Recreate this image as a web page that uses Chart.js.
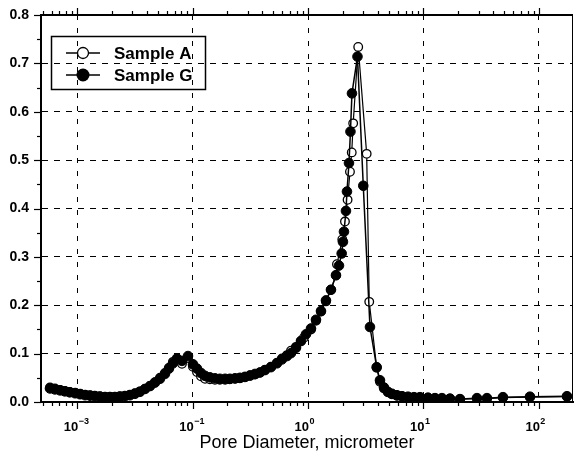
<!DOCTYPE html>
<html>
<head>
<meta charset="utf-8">
<script src="https://cdn.jsdelivr.net/npm/chart.js"></script>
<style>
  html, body { margin: 0; padding: 0; background: #fff; }
  #wrap { width: 575px; height: 453px; }
</style>
</head>
<body>
<div id="wrap"><canvas id="poreChart" width="575" height="453"></canvas></div>
<script>
// Pore diameter (micrometer) and distribution values
var seriesNames = ['Sample A', 'Sample G'];

var poreA = [0.0058, 0.0064, 0.0071, 0.0078, 0.0086, 0.0096, 0.0106, 0.0117, 0.0129, 0.0142,
    0.0157, 0.0174, 0.0192, 0.0212, 0.0234, 0.0259, 0.0286, 0.0316, 0.0349, 0.0386,
    0.0427, 0.0471, 0.0521, 0.0575, 0.0623, 0.0675, 0.0731, 0.0808, 0.0911, 0.1006,
    0.109, 0.118, 0.128, 0.141, 0.156, 0.172, 0.191, 0.210, 0.233, 0.257,
    0.284, 0.314, 0.347, 0.383, 0.423, 0.477, 0.538, 0.594, 0.657, 0.711,
    0.786, 0.868, 0.92, 1.060, 1.171, 1.294, 1.429, 1.579, 1.745, 1.780,
    1.98, 2.088, 2.20, 2.307, 2.39, 2.46, 2.72, 3.22, 3.39, 3.931,
    4.20, 4.55, 4.93, 5.33, 5.89, 6.51, 7.34, 8.28, 9.33, 10.94,
    12.58, 14.46, 16.97, 20.72, 29.08, 35.51, 48.85, 83.73, 175.2];
var fracA = [0.030, 0.028, 0.025, 0.023, 0.021, 0.019, 0.017, 0.015, 0.014, 0.013,
    0.012, 0.011, 0.011, 0.011, 0.012, 0.013, 0.015, 0.018, 0.022, 0.027,
    0.033, 0.041, 0.050, 0.060, 0.071, 0.083, 0.088, 0.079, 0.091, 0.073,
    0.062, 0.053, 0.048, 0.047, 0.046, 0.046, 0.046, 0.047, 0.048, 0.049,
    0.051, 0.054, 0.057, 0.061, 0.066, 0.073, 0.081, 0.090, 0.097, 0.106,
    0.114, 0.126, 0.133, 0.150, 0.168, 0.187, 0.208, 0.232, 0.262, 0.285,
    0.336, 0.373, 0.418, 0.476, 0.516, 0.576, 0.734, 0.513, 0.207, 0.071,
    0.042, 0.028, 0.020, 0.016, 0.013, 0.012, 0.010, 0.009, 0.009, 0.008,
    0.008, 0.007, 0.007, 0.006, 0.007, 0.007, 0.009, 0.010, 0.011];

var poreG = [0.0058, 0.0064, 0.0071, 0.0078, 0.0086, 0.0096, 0.0106, 0.0117, 0.0129, 0.0142,
    0.0157, 0.0174, 0.0192, 0.0212, 0.0234, 0.0259, 0.0286, 0.0316, 0.0349, 0.0386,
    0.0427, 0.0471, 0.0521, 0.0575, 0.0623, 0.0675, 0.0731, 0.0808, 0.0911, 0.1006,
    0.109, 0.118, 0.128, 0.141, 0.156, 0.172, 0.191, 0.210, 0.233, 0.257,
    0.284, 0.314, 0.347, 0.383, 0.423, 0.477, 0.538, 0.594, 0.657, 0.711,
    0.786, 0.868, 0.959, 1.060, 1.171, 1.294, 1.429, 1.579, 1.745, 1.853,
    1.955, 2.006, 2.047, 2.130, 2.173, 2.262, 2.330, 2.401, 2.680, 3.009,
    3.439, 3.931, 4.199, 4.548, 4.926, 5.333, 5.894, 6.512, 7.339, 8.275,
    9.327, 10.94, 12.58, 14.46, 16.97, 20.72, 29.08, 35.51, 48.85, 83.73, 175.2];
var fracG = [0.028, 0.026, 0.024, 0.022, 0.020, 0.018, 0.016, 0.014, 0.013, 0.012,
    0.011, 0.010, 0.010, 0.010, 0.011, 0.012, 0.014, 0.017, 0.021, 0.027,
    0.033, 0.040, 0.048, 0.058, 0.069, 0.080, 0.090, 0.085, 0.095, 0.078,
    0.069, 0.060, 0.054, 0.051, 0.049, 0.048, 0.048, 0.048, 0.049, 0.050,
    0.052, 0.055, 0.058, 0.061, 0.066, 0.072, 0.080, 0.088, 0.095, 0.101,
    0.112, 0.126, 0.140, 0.152, 0.170, 0.188, 0.210, 0.232, 0.262, 0.282,
    0.307, 0.331, 0.352, 0.395, 0.435, 0.494, 0.559, 0.638, 0.714, 0.447,
    0.155, 0.072, 0.045, 0.030, 0.021, 0.017, 0.014, 0.012, 0.011, 0.010,
    0.010, 0.009, 0.008, 0.008, 0.007, 0.006, 0.008, 0.008, 0.010, 0.011, 0.012];

// Axis ticks
var xTickValues = [0.01, 0.1, 1, 10, 100];
var xTickExponents = ['-3', '-1', '0', '1', '2'];
var xMin = 0.00485;
var xMax = 197.6;
var yMin = 0;
var yMax = 0.8;
var yStep = 0.1;
var xTitle = 'Pore Diameter, micrometer';

var FONT = '"Liberation Sans", Arial, Helvetica, sans-serif';

/**
 * Build {x, y} points from two arrays.
 */
var toPoints = function(xs, ys) {
    return xs.map(function(x, i) {
        return {x: x, y: ys[i]};
    });
};

/**
 * Frame, minor ticks, x labels, axis title and legend box.
 */
var decorPlugin = {
    id: 'decor',
    afterDraw: function(chart) {
        var ctx = chart.ctx;
        var a = chart.chartArea;
        var xs = chart.scales.x;
        var ys = chart.scales.y;
        ctx.save();
        ctx.strokeStyle = '#000';
        ctx.fillStyle = '#000';

        // top and right frame
        ctx.lineWidth = 2;
        ctx.beginPath();
        ctx.moveTo(a.left, a.top);
        ctx.lineTo(a.right, a.top);
        ctx.stroke();
        ctx.lineWidth = 1;
        ctx.beginPath();
        ctx.moveTo(a.right - 0.5, a.top);
        ctx.lineTo(a.right - 0.5, a.bottom);
        ctx.stroke();

        // log ticks on bottom and top
        ctx.lineWidth = 1.2;
        for (var e = -3; e <= 2; e++) {
            for (var m = 1; m <= 9; m++) {
                var v = m * Math.pow(10, e);
                if (v < xs.min || v > xs.max) {
                    continue;
                }
                var px = Math.round(xs.getPixelForValue(v)) + 0.5;
                var len = m === 1 ? 7 : 4;
                ctx.beginPath();
                ctx.moveTo(px, a.bottom);
                ctx.lineTo(px, a.bottom + len);
                ctx.moveTo(px, a.top);
                ctx.lineTo(px, a.top - len);
                ctx.stroke();
            }
        }

        // y ticks on the left
        for (var k = 0; k <= 16; k++) {
            var py = Math.round(ys.getPixelForValue(k * 0.05)) + 0.5;
            var ylen = k % 2 === 0 ? 7 : 4;
            ctx.beginPath();
            ctx.moveTo(a.left - ylen, py);
            ctx.lineTo(a.left, py);
            ctx.stroke();
        }

        // x tick labels: 10 with superscript exponent
        xTickValues.forEach(function(v, i) {
            var gx = xs.getPixelForValue(v);
            ctx.font = 'bold 13px ' + FONT;
            ctx.textAlign = 'right';
            ctx.textBaseline = 'alphabetic';
            ctx.fillText('10', gx + 1, 431);
            ctx.font = 'bold 9px ' + FONT;
            ctx.textAlign = 'left';
            ctx.fillText(xTickExponents[i].replace('-', '\u2212'), gx + 1.5, 424);
        });

        // x axis title
        ctx.font = '18px ' + FONT;
        ctx.textAlign = 'center';
        ctx.textBaseline = 'alphabetic';
        ctx.fillText(xTitle, (a.left + a.right) / 2, 448);

        // legend box
        ctx.lineWidth = 1.5;
        ctx.strokeRect(51.5, 36.5, 154, 53);
        var rows = [53, 75];
        seriesNames.forEach(function(name, i) {
            var ly = rows[i];
            ctx.lineWidth = 1.3;
            ctx.beginPath();
            ctx.moveTo(66, ly);
            ctx.lineTo(100, ly);
            ctx.stroke();
            ctx.beginPath();
            if (i === 0) {
                ctx.arc(83, ly, 5.5, 0, Math.PI * 2);
                ctx.fillStyle = '#fff';
                ctx.fill();
                ctx.stroke();
            } else {
                ctx.arc(83, ly, 6.5, 0, Math.PI * 2);
                ctx.fillStyle = '#000';
                ctx.fill();
            }
            ctx.fillStyle = '#000';
            ctx.font = 'bold 17px ' + FONT;
            ctx.textAlign = 'left';
            ctx.textBaseline = 'middle';
            ctx.fillText(name, 114, ly + 1);
        });
        ctx.restore();
    }
};

new Chart(document.getElementById('poreChart'), {
    type: 'line',
    data: {
        datasets: [{
            label: seriesNames[0],
            data: toPoints(poreA, fracA),
            borderColor: '#000',
            borderWidth: 1.2,
            pointRadius: 4.3,
            pointBorderWidth: 1.3,
            pointBackgroundColor: '#fff',
            pointBorderColor: '#000',
            tension: 0,
            order: 1
        }, {
            label: seriesNames[1],
            data: toPoints(poreG, fracG),
            borderColor: '#000',
            borderWidth: 1.5,
            pointRadius: 4.8,
            pointBorderWidth: 1,
            pointBackgroundColor: '#000',
            pointBorderColor: '#000',
            tension: 0,
            order: 0
        }]
    },
    options: {
        responsive: false,
        animation: false,
        layout: {
            autoPadding: false,
            padding: {left: 0, right: 2, top: 15, bottom: 0}
        },
        scales: {
            x: {
                type: 'logarithmic',
                min: xMin,
                max: xMax,
                afterBuildTicks: function(scale) {
                    scale.ticks = xTickValues.map(function(v) {
                        return {value: v};
                    });
                },
                afterFit: function(scale) {
                    scale.height = 51;
                    scale.paddingLeft = 0;
                    scale.paddingRight = 0;
                },
                ticks: {
                    display: false
                },
                grid: {
                    color: '#000',
                    lineWidth: 1,
                    drawTicks: false
                },
                border: {
                    display: true,
                    color: '#000',
                    width: 2,
                    dash: [5, 8]
                }
            },
            y: {
                min: yMin,
                max: yMax,
                afterFit: function(scale) {
                    scale.width = 41;
                    scale.paddingTop = 0;
                    scale.paddingBottom = 0;
                },
                ticks: {
                    stepSize: yStep,
                    color: '#000',
                    padding: 12,
                    font: {family: FONT, size: 14, weight: 'bold'},
                    callback: function(value) {
                        return value.toFixed(1);
                    }
                },
                grid: {
                    color: '#000',
                    lineWidth: 1,
                    drawTicks: false
                },
                border: {
                    display: true,
                    color: '#000',
                    width: 2,
                    dash: [6, 6]
                }
            }
        },
        plugins: {
            legend: {display: false},
            tooltip: {enabled: false}
        }
    },
    plugins: [decorPlugin]
});
</script>
</body>
</html>
